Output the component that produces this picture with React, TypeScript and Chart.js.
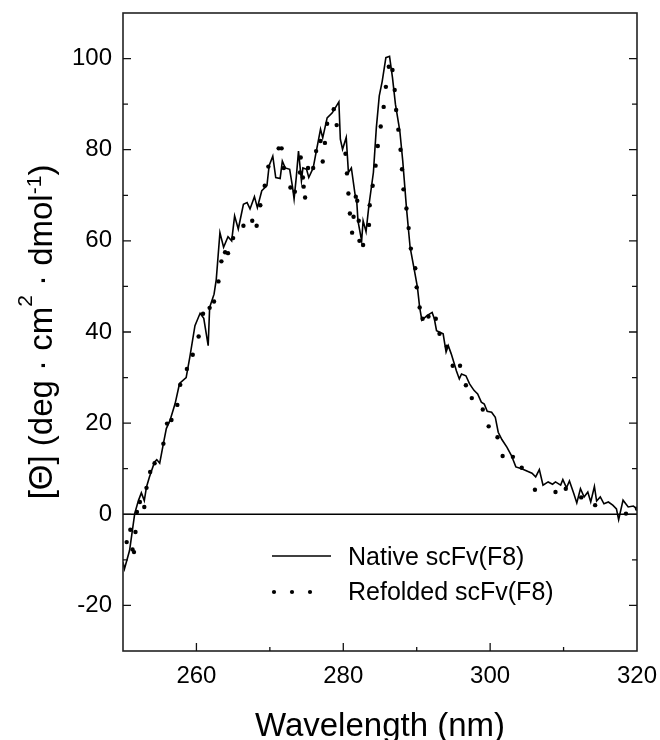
import React, { useEffect, useRef } from "react";
import { Chart, registerables } from "chart.js";

Chart.register(...registerables);

// Native scFv(F8): wavelength (nm) and [Θ] values
const nativeWavelength = [
  250.0, 250.2, 250.9, 251.6, 252.1, 252.5, 252.9, 253.2, 253.6, 254.3, 254.6, 255.0, 255.5, 255.9, 256.4,
  257.1, 257.7, 258.6, 259.1, 259.8, 260.5, 261.0, 261.6, 261.8, 262.4, 262.7, 263.2, 263.7, 264.3, 264.8,
  265.2, 265.7, 266.4, 266.9, 267.3, 267.9, 268.3, 268.9, 269.6, 269.9, 270.4, 270.8, 271.4, 271.7, 272.1,
  272.7, 273.1, 273.3, 273.6, 273.9, 274.3, 274.5, 275.0, 275.3, 275.9, 276.2, 276.9, 277.2, 277.8, 278.5,
  279.4, 279.6, 279.9, 280.4, 280.7, 281.1, 281.6, 281.8, 282.0, 282.5, 282.7, 283.1, 283.5, 284.1, 284.5,
  284.9, 285.3, 285.8, 286.3, 286.7, 287.1, 287.7, 288.1, 288.6, 289.1, 289.4, 289.8, 290.1, 290.4, 290.7,
  291.4, 292.1, 292.4, 292.7, 293.6, 294.0, 294.3, 294.7, 295.2, 295.4, 295.8, 296.1, 296.7, 297.2, 297.8,
  298.3, 298.8, 299.2, 299.6, 300.2, 300.7, 301.1, 301.6, 302.3, 302.9, 303.5, 304.3, 305.0, 305.7, 306.2,
  306.7, 307.2, 307.9, 308.5, 308.9, 309.6, 309.9, 310.4, 310.8, 311.4, 311.8, 312.3, 312.8, 313.3, 313.7,
  314.2, 314.5, 315.0, 315.5, 316.1, 316.7, 317.2, 317.5, 318.1, 318.8, 319.5, 320.0,
];
const nativeValue = [
  -10.5, -12, -7.9, 0.2, 3, 4.7, 3, 6, 8.2, 11.5, 12, 11.2, 15.5, 18.8, 20.6,
  24.3, 28.7, 30, 34.5, 41.4, 44.1, 43, 37, 45.4, 48.3, 51.5, 61.8, 58.6, 60.9, 60,
  65.5, 62.6, 68, 68.4, 67, 69.7, 67.3, 71, 72.1, 76.5, 78.6, 73.9, 73.7, 77.5, 76,
  75.7, 71.7, 69.2, 74, 79.7, 73.2, 76, 75.7, 73.9, 76, 78.6, 84.5, 82.6, 87, 88.1,
  90.5, 82.3, 80.1, 82.7, 75, 76, 70.2, 69.5, 64.4, 60, 64.4, 62, 67.9, 75, 84.8,
  91.8, 95, 100.2, 100.5, 95.8, 90, 84.1, 77.5, 67.3, 58.6, 56, 52.5, 49.8, 45.4, 42.6,
  43.6, 44.3, 42.9, 40.3, 39.6, 35.6, 37, 35.2, 32.6, 31.5, 29.7, 30.8, 30.4, 28.6, 27.2,
  26.4, 24.6, 24.2, 22.6, 22.4, 21.3, 18, 16.4, 14.7, 12.9, 10.4, 10, 9.5, 9, 8.2,
  9.8, 6.4, 7.1, 6.6, 7.1, 6.4, 7.6, 5.8, 7.3, 4.5, 2.5, 5.6, 3.8, 4.9, 2.7,
  6.1, 2.9, 3.8, 2.3, 2.7, 2, 1.2, -1.2, 3.1, 1.6, 1.8, 1.2, 1.0,
];

// Refolded scFv(F8): wavelength (nm) and [Θ] values
const refoldedWavelength = [
  250.5, 251.0, 251.3, 251.5, 251.7, 251.9, 252.3, 252.9, 253.2, 253.7, 254.3, 255.5, 256.0, 256.6, 257.4,
  257.8, 258.7, 259.5, 260.3, 260.9, 261.8, 262.4, 263.0, 263.4, 263.9, 264.3, 265.0, 266.4, 267.6, 268.2,
  268.7, 269.3, 269.8, 271.2, 271.6, 271.9, 272.8, 273.4, 274.1, 274.2, 274.5, 274.6, 274.8, 275.2, 275.9,
  276.3, 276.9, 277.2, 277.5, 277.8, 278.7, 279.1, 280.3, 280.5, 280.7, 280.9, 281.2, 281.4, 281.7, 281.9,
  282.1, 282.2, 282.7, 283.5, 283.6, 284.0, 284.4, 284.7, 285.1, 285.5, 285.8, 286.2, 286.7, 287.0, 287.2,
  287.5, 287.8, 288.0, 288.2, 288.6, 288.9, 289.2, 289.8, 290.0, 290.4, 290.8, 291.6, 292.6, 293.1, 294.1,
  294.9, 295.9, 296.7, 297.5, 299.0, 299.8, 301.0, 301.7, 303.1, 304.3, 306.1, 308.9, 310.3, 312.4, 314.3,
  318.5, 320.0,
];
const refoldedValue = [
  -6.1, -3.4, -7.7, -8.3, -3.9, 0.5, 2.7, 1.6, 5.8, 9.3, 11.2, 15.5, 19.9, 20.7, 24,
  28.4, 31.9, 35, 39, 44, 45.3, 46.7, 51.1, 55.5, 57.5, 57.3, 60.6, 63.3, 64.4, 63.3,
  67.8, 72.1, 76.3, 80.3, 80.3, 76, 71.7, 70.8, 75, 78.3, 73.9, 71.9, 69.5, 76, 76,
  79.7, 81.9, 77.4, 81.5, 85.7, 88.9, 85.4, 79.1, 74.8, 70.4, 66, 61.8, 65.3, 69.7, 68.8,
  64.4, 60, 59.1, 63.5, 67.8, 72.1, 76.5, 80.8, 85.1, 89.4, 93.8, 98.2, 97.5, 93.1, 88.7,
  84.4, 80, 75.7, 71.3, 67.1, 62.8, 58.3, 54, 49.8, 45.4, 42.9, 43.4, 42.9, 39.6, 36.8,
  32.6, 32.6, 28.3, 25.5, 23, 19.3, 16.9, 12.8, 12.6, 10.2, 5.4, 4.9, 5.6, 3.7, 2,
  0.15, 1.2,
];

const xLabeled = [260, 280, 300, 320];
const yLabeled = [-20, 0, 20, 40, 60, 80, 100];
const seriesNames = ["Native scFv(F8)", "Refolded scFv(F8)"];
const xTitle = "Wavelength (nm)";

const FONT = '"Liberation Sans", Arial, Helvetica, sans-serif';

const framePlugin = {
  id: "framePlugin",
  beforeDatasetsDraw(chart: any) {
    const { ctx, chartArea, scales } = chart;
    const y0 = scales.y.getPixelForValue(0);
    ctx.save();
    ctx.strokeStyle = "#000";
    ctx.lineWidth = 1.6;
    ctx.beginPath();
    ctx.moveTo(chartArea.left, y0);
    ctx.lineTo(chartArea.right, y0);
    ctx.stroke();
    ctx.restore();
  },
  afterDraw(chart: any) {
    const { ctx, chartArea, scales } = chart;
    const { left, right, top, bottom } = chartArea;
    ctx.save();
    ctx.strokeStyle = "#222";
    ctx.lineWidth = 1.6;
    ctx.strokeRect(left, top, right - left, bottom - top);

    // x ticks (inward from bottom)
    ctx.lineWidth = 1.3;
    ctx.strokeStyle = "#111";
    scales.x.ticks.forEach((t: any) => {
      const v = t.value;
      if (v <= scales.x.min || v >= scales.x.max) return;
      const px = scales.x.getPixelForValue(v);
      const len = xLabeled.includes(v) ? 8 : 4;
      ctx.beginPath();
      ctx.moveTo(px, bottom);
      ctx.lineTo(px, bottom - len);
      ctx.stroke();
    });
    // y ticks (inward, both sides)
    scales.y.ticks.forEach((t: any) => {
      const v = t.value;
      if (v <= scales.y.min || v >= scales.y.max) return;
      const py = scales.y.getPixelForValue(v);
      const len = yLabeled.includes(v) ? 8 : 5;
      ctx.beginPath();
      ctx.moveTo(left, py);
      ctx.lineTo(left + len, py);
      ctx.moveTo(right, py);
      ctx.lineTo(right - len, py);
      ctx.stroke();
    });

    // legend
    ctx.fillStyle = "#000";
    ctx.font = `25px ${FONT}`;
    ctx.textBaseline = "alphabetic";
    ctx.textAlign = "left";
    ctx.lineWidth = 1.6;
    ctx.strokeStyle = "#000";
    ctx.beginPath();
    ctx.moveTo(272, 556);
    ctx.lineTo(331, 556);
    ctx.stroke();
    ctx.fillText(seriesNames[0], 348, 565);
    [274, 292, 310].forEach((dx) => {
      ctx.beginPath();
      ctx.arc(dx, 592, 2.1, 0, Math.PI * 2);
      ctx.fill();
    });
    ctx.fillText(seriesNames[1], 348, 600);

    // x title
    ctx.font = `33px ${FONT}`;
    ctx.textAlign = "center";
    ctx.fillText(xTitle, (left + right) / 2, 736);

    // y title with superscripts
    const segs: [string, number, number][] = [
      ["[Θ] (deg · cm", 33, 0],
      ["2", 21, -20],
      [" · dmol", 33, 0],
      ["-1", 21, -11],
      [")", 33, 0],
    ];
    let total = 0;
    segs.forEach(([s, f]) => {
      ctx.font = `${f}px ${FONT}`;
      total += ctx.measureText(s).width;
    });
    ctx.translate(52, (top + bottom) / 2);
    ctx.rotate(-Math.PI / 2);
    ctx.textAlign = "left";
    let x = -total / 2;
    segs.forEach(([s, f, dy]) => {
      ctx.font = `${f}px ${FONT}`;
      ctx.fillText(s, x, dy);
      x += ctx.measureText(s).width;
    });
    ctx.restore();
  },
};

export default function App() {
  const ref = useRef<HTMLCanvasElement | null>(null);

  useEffect(() => {
    document.body.style.margin = "0";
    if (!ref.current) return;
    const chart = new Chart(ref.current, {
      type: "scatter",
      data: {
        datasets: [
          {
            label: seriesNames[0],
            data: nativeWavelength.map((x, i) => ({ x, y: nativeValue[i] })),
            showLine: true,
            borderColor: "#000",
            borderWidth: 1.6,
            pointRadius: 0,
            tension: 0,
          },
          {
            label: seriesNames[1],
            data: refoldedWavelength.map((x, i) => ({ x, y: refoldedValue[i] })),
            showLine: false,
            pointRadius: 2.2,
            pointBackgroundColor: "#000",
            pointBorderWidth: 0,
          },
        ],
      },
      options: {
        animation: false,
        responsive: false,
        devicePixelRatio: 1,
        layout: { padding: { top: 13, right: 23, left: 0, bottom: 0 } },
        plugins: { legend: { display: false }, tooltip: { enabled: false } },
        scales: {
          x: {
            type: "linear",
            min: 250,
            max: 320,
            grid: { display: false, drawTicks: false },
            border: { display: false },
            ticks: {
              stepSize: 10,
              padding: 11,
              color: "#000",
              font: { size: 24, family: FONT },
              autoSkip: false,
              maxRotation: 0,
              callback: (v: any) => (xLabeled.includes(Number(v)) ? String(v) : ""),
            },
            afterFit: (s: any) => {
              s.height = 89;
              s.paddingLeft = 0;
              s.paddingRight = 0;
            },
          },
          y: {
            type: "linear",
            min: -30,
            max: 110,
            grid: { display: false, drawTicks: false },
            border: { display: false },
            ticks: {
              stepSize: 10,
              padding: 11,
              color: "#000",
              font: { size: 24, family: FONT },
              autoSkip: false,
              callback: (v: any) => (yLabeled.includes(Number(v)) ? String(v) : ""),
            },
            afterFit: (s: any) => {
              s.width = 123;
              s.paddingTop = 0;
              s.paddingBottom = 0;
            },
          },
        },
      },
      plugins: [framePlugin],
    });
    return () => chart.destroy();
  }, []);

  return (
    <div style={{ width: 660, height: 740, background: "#fff" }}>
      <canvas ref={ref} width={660} height={740} style={{ display: "block", width: 660, height: 740 }} />
    </div>
  );
}
